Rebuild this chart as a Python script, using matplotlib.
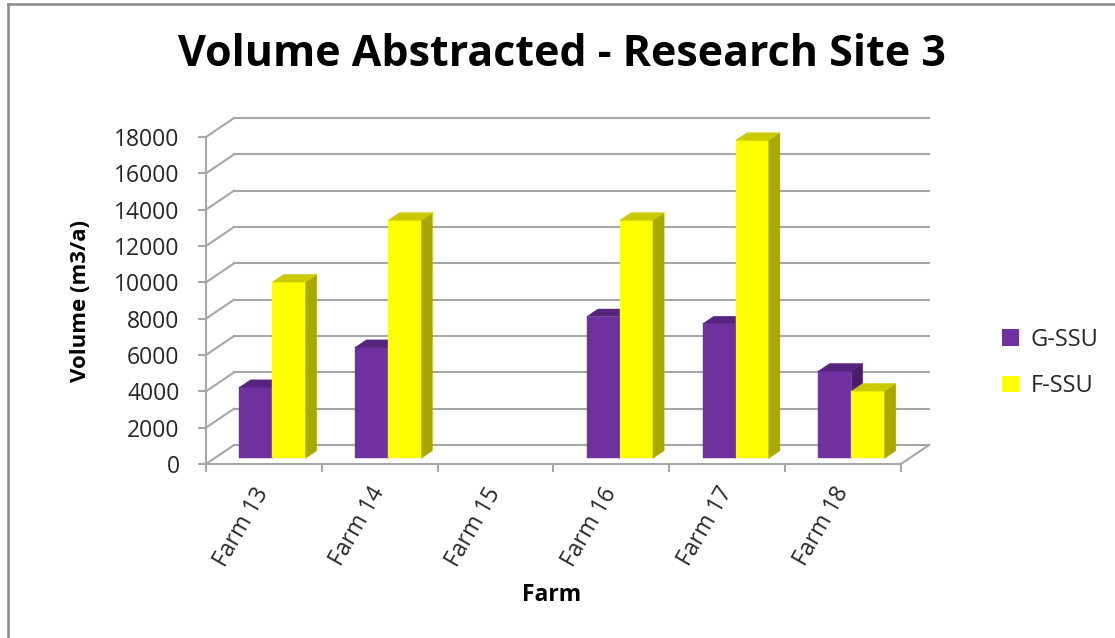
import numpy as np
import matplotlib.pyplot as plt
from matplotlib.patches import Polygon, Rectangle, Patch
from matplotlib.lines import Line2D

plt.rcParams['font.family'] = ['Open Sans', 'DejaVu Sans']

# data
farms = ["Farm 13", "Farm 14", "Farm 15", "Farm 16", "Farm 17", "Farm 18"]
g_ssu = [3900, 6100, 0, 7800, 7400, 4800]
f_ssu = [9700, 13100, 0, 13100, 17500, 3700]
y_ticks = [0, 2000, 4000, 6000, 8000, 10000, 12000, 14000, 16000, 18000]

# name, values, front / top / side colours
series = [
    ("G-SSU", g_ssu, "#7030A0", "#57237f", "#4b1b6c"),
    ("F-SSU", f_ssu, "#FFFF00", "#CACA00", "#A8A800"),
]

# --------------------------------------------------
# fake 3D geometry (oblique projection, data units)
# --------------------------------------------------
DX, DY = 0.242, 1046        # offset of the back wall
bw = 1 / (len(series) + 1.5)  # bar width, gap width 150%
z0, z1 = 0.3, 0.7            # bar depth range
grid_col = "#A6A6A6"
n = len(farms)
ymax = y_ticks[-1]

W, H = 1115, 638
fig = plt.figure(figsize=(W / 100, H / 100), dpi=100)
ax = fig.add_axes([206 / W, (H - 464) / H, 723 / W, 346 / H])
ax.set_xlim(0, n + DX)
ax.set_ylim(0, ymax + DY)

# back wall and side wall gridlines
for v in y_ticks:
    ax.plot([DX, n + DX], [v + DY, v + DY], color=grid_col, lw=1.5, zorder=1, clip_on=False)
    ax.plot([0, DX], [v, v + DY], color=grid_col, lw=1.5, zorder=1, clip_on=False)
# floor right edge
ax.plot([n, n + DX], [0, DY], color=grid_col, lw=1.5, zorder=1, clip_on=False)

# bars
for i in range(n):
    for j, (name, vals, c_front, c_top, c_side) in enumerate(series):
        v = vals[i]
        if v == 0:
            continue
        xl = i + (1 - len(series) * bw) / 2 + j * bw + z0 * DX
        yb = z0 * DY
        ddx, ddy = (z1 - z0) * DX, (z1 - z0) * DY
        ax.add_patch(Rectangle((xl, yb), bw, v, facecolor=c_front,
                               edgecolor=c_front, lw=0.3, zorder=3))
        ax.add_patch(Polygon([(xl + bw, yb), (xl + bw + ddx, yb + ddy),
                              (xl + bw + ddx, yb + v + ddy), (xl + bw, yb + v)],
                             facecolor=c_side, edgecolor=c_side, lw=0.3, zorder=3))
        ax.add_patch(Polygon([(xl, yb + v), (xl + bw, yb + v),
                              (xl + bw + ddx, yb + v + ddy), (xl + ddx, yb + v + ddy)],
                             facecolor=c_top, edgecolor=c_top, lw=0.3, zorder=3))

# axes lines and ticks
for s in ["top", "right"]:
    ax.spines[s].set_visible(False)
for s in ["left", "bottom"]:
    ax.spines[s].set_color(grid_col)
    ax.spines[s].set_linewidth(1.5)
ax.spines["left"].set_bounds(0, ymax)
ax.spines["bottom"].set_bounds(0, n)
ax.set_yticks(y_ticks)
ax.set_yticklabels([str(t) for t in y_ticks], fontsize=16.5, color="#262626")
ax.tick_params(axis="y", length=6, width=1.5, color=grid_col, pad=13)
ax.set_xticks(np.arange(n + 1))
ax.set_xticklabels([""] * (n + 1))
ax.tick_params(axis="x", which="major", length=6, width=1.5, color=grid_col)
ax.set_xticks(np.arange(n) + 0.5, minor=True)
ax.set_xticklabels(farms, minor=True, rotation=60, ha="right", va="center",
                   rotation_mode="anchor", fontsize=16.5, color="#262626")
ax.tick_params(axis="x", which="minor", length=0, pad=18)
ax.patch.set_visible(False)

# titles
fig.text(562 / W, 1 - 66 / H, "Volume Abstracted - Research Site 3",
         ha="center", va="baseline", fontsize=31, fontweight="bold", color="black")
fig.text(81 / W, 1 - 301 / H, "Volume (m3/a)", rotation=90, ha="center", va="center",
         fontsize=16, fontweight="bold", color="black")
fig.text(552 / W, 1 - 601 / H, "Farm", ha="center", va="baseline",
         fontsize=16.5, fontweight="bold", color="black")

# legend
handles = [Patch(facecolor=s[2], edgecolor="none") for s in series]
fig.legend(handles, [s[0] for s in series], loc="center left",
           bbox_to_anchor=(993 / W, 1 - 363 / H), frameon=False,
           fontsize=17, handlelength=0.7, handleheight=0.7, handletextpad=0.5,
           labelspacing=0.95, borderaxespad=0, labelcolor="#262626")

# chart border (left and top only visible)
fig.add_artist(Line2D([8 / W, 8 / W], [0, 1 - 4 / H], color="#888888", lw=1.8))
fig.add_artist(Line2D([8 / W, 1], [1 - 4 / H, 1 - 4 / H], color="#888888", lw=1.8))

fig.savefig("out.png", dpi=100)
